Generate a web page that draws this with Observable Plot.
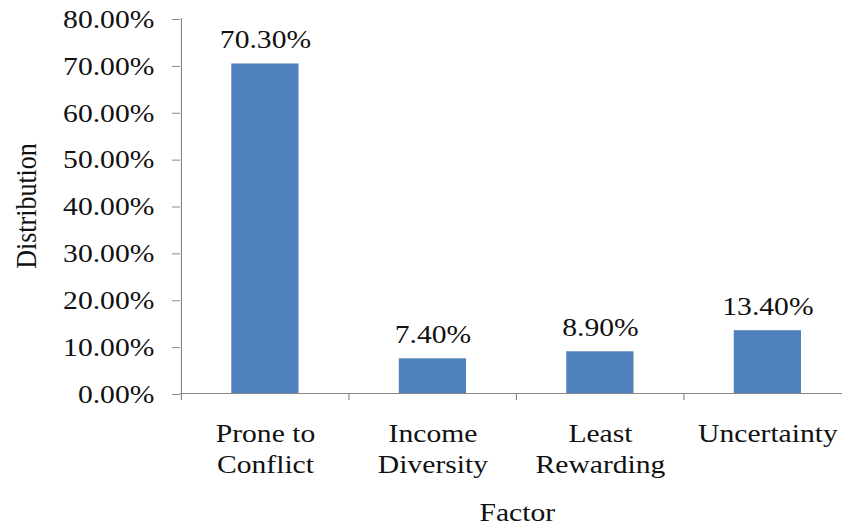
<!DOCTYPE html>
<html>
<head>
<meta charset="utf-8">
<script src="https://cdn.jsdelivr.net/npm/d3@7"></script>
<script src="https://cdn.jsdelivr.net/npm/@observablehq/plot@0.6"></script>
<style>
  html, body { margin: 0; padding: 0; background: #fff; }
  #chart { width: 842px; height: 525px; overflow: hidden; }
</style>
</head>
<body>
<div id="chart"></div>
<script>
// Share of respondents by factor
const categories = ["Prone to Conflict", "Income Diversity", "Least Rewarding", "Uncertainty"];
const categoryLabels = ["Prone to\nConflict", "Income\nDiversity", "Least\nRewarding", "Uncertainty"];
const values = [70.3, 7.4, 8.9, 13.4];
const yTicks = [0, 10, 20, 30, 40, 50, 60, 70, 80];

const data = categories.map((factor, i) => ({factor, value: values[i]}));
const labelOf = new Map(categories.map((c, i) => [c, categoryLabels[i]]));

// The chart is laid out in a narrower coordinate space and then widened,
// giving the broad, stretched lettering of the original figure.
const outW = 842, H = 525;
const stretch = 1.14;
const W = Math.round(outW / stretch);

const font = "'Liberation Serif', 'Times New Roman', serif";
const fs = 26;
const axisGray = "#888888";
const barBlue = "#4F81BD";
const ink = "#111111";

const xRange = [158, 748];
const step = (xRange[1] - xRange[0]) / categories.length;

const svg = Plot.plot({
  width: W,
  height: H,
  marginTop: 18,
  marginBottom: 132,
  marginLeft: xRange[0],
  marginRight: 0,
  style: {fontFamily: font, fontSize: fs + "px", background: "#fff", color: ink},
  x: {type: "band", domain: categories, range: xRange, paddingInner: 0.6, paddingOuter: 0.3},
  y: {domain: [0, 80]},
  marks: [
    Plot.barY(data, {x: "factor", y: "value", fill: barBlue}),
    // value axis line
    Plot.ruleX([categories[0]], {y1: 0, y2: 80, dx: -step / 2, stroke: axisGray}),
    // category axis line
    Plot.ruleY([0], {stroke: axisGray}),
    Plot.axisY({
      ticks: yTicks,
      tickFormat: d => d.toFixed(2) + "%",
      tickSize: 7,
      tickPadding: 16,
      stroke: axisGray,
      fill: ink,
      fontSize: fs,
      dy: 1,
      label: null
    }),
    // tick marks between categories
    Plot.axisX({
      tickSize: 7,
      tickFormat: () => "",
      dx: -step / 2,
      stroke: axisGray,
      label: null
    }),
    Plot.axisX({
      tickSize: 0,
      tickPadding: 26,
      tickFormat: d => labelOf.get(d),
      lineHeight: 1.2,
      fill: ink,
      fontSize: fs,
      label: null
    }),
    Plot.text(data, {
      x: "factor",
      y: "value",
      text: d => d.value.toFixed(2) + "%",
      lineAnchor: "bottom",
      dy: -16,
      fill: ink,
      fontSize: fs
    }),
    Plot.text(["Distribution"], {
      frameAnchor: "left",
      textAnchor: "middle",
      rotate: -90,
      dx: -135,
      fill: ink,
      fontSize: fs
    }),
    Plot.text(["Factor"], {
      frameAnchor: "bottom",
      lineAnchor: "bottom",
      dx: 5,
      dy: 127,
      fill: ink,
      fontSize: fs
    })
  ]
});

svg.setAttribute("width", outW);
svg.setAttribute("height", H);
svg.setAttribute("preserveAspectRatio", "none");
svg.style.width = outW + "px";
svg.style.height = H + "px";
svg.style.maxWidth = "none";
document.getElementById("chart").appendChild(svg);
</script>
</body>
</html>
